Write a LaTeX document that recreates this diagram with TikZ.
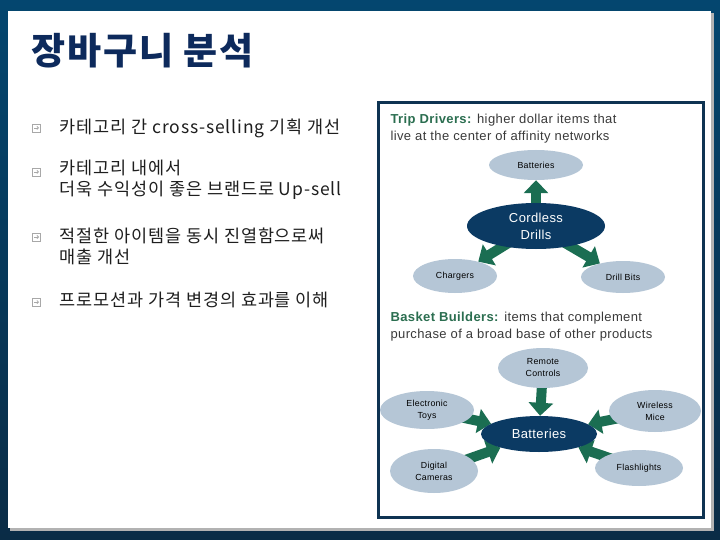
\documentclass[tikz,border=0pt]{standalone}
\usepackage{fontspec}
\setmainfont[LetterSpace=3]{Liberation Sans}
\newfontfamily\kr[LetterSpace=5]{Noto Sans CJK KR}
\newfontfamily\krtitle[LetterSpace=5]{Noto Sans CJK KR}
\usetikzlibrary{shapes.geometric,arrows.meta,backgrounds}
\definecolor{frametop}{HTML}{04466F}
\definecolor{framebot}{HTML}{0A2C46}
\definecolor{titleblue}{HTML}{0D2A5C}
\definecolor{itemblack}{HTML}{1E1E1E}
\definecolor{bulletgray}{HTML}{A8A8A8}
\definecolor{boxblue}{HTML}{0E3352}
\definecolor{ellgray}{HTML}{B5C6D6}
\definecolor{ellnavy}{HTML}{0B3A63}
\definecolor{arrgreen}{HTML}{1B6E52}
\definecolor{tripgreen}{HTML}{2B6E50}
\definecolor{graytext}{HTML}{3A3A3A}

\begin{document}
\begin{tikzpicture}[x=1pt,y=-1pt,
    lightell/.style={ellipse,fill=ellgray,inner sep=0pt,align=center,font=\fontsize{8.8}{12}\selectfont},
    darkell/.style={ellipse,fill=ellnavy,inner sep=0pt,align=center,text=white,font=\fontsize{13}{17}\selectfont},
    blockarr/.style={draw=arrgreen,line width=10pt,-{Triangle[width=24pt,length=13pt]}},
    itemtext/.style={anchor=west,align=left,text=itemblack,font=\kr\fontsize{17.5}{21}\selectfont},
    headtext/.style={anchor=west,align=left,text=graytext,font=\fontsize{13}{17}\selectfont}]
    \useasboundingbox (0,0) rectangle (720,540);
    \begin{pgfonlayer}{background}
      \shade[top color=frametop,bottom color=framebot] (0,0) rectangle (720,540);
      \fill[gray!60] (10,13) rectangle (714,531);
      \fill[white] (8,11) rectangle (711,528);
    \end{pgfonlayer}

    \node[anchor=west,text=titleblue,font=\krtitle\bfseries\fontsize{37}{42}\selectfont] (title) at (28,51) {장바구니 분석};

    \foreach \y in {128,172,237,302} {
      \draw[bulletgray,line width=0.8pt] (32,\y-4) rectangle (40,\y+4);
      \draw[bulletgray,line width=0.8pt,-{Straight Barb[length=1.5pt]}] (34,\y) -- (39,\y);
    }
    \node[itemtext] (item1) at (56,128) {카테고리 간 cross-selling 기획 개선};
    \node[itemtext] (item2) at (56,180) {카테고리 내에서\\더욱 수익성이 좋은 브랜드로 Up-sell};
    \node[itemtext] (item3) at (56,246.5) {적절한 아이템을 동시 진열함으로써\\매출 개선};
    \node[itemtext] (item4) at (56,300) {프로모션과 가격 변경의 효과를 이해};

    \draw[boxblue,line width=3pt] (378,103) rectangle (703,517);

    \node[headtext] (trip) at (387,128.5) {\textcolor{tripgreen}{\textbf{Trip Drivers:}} higher dollar items that\\live at the center of affinity networks};
    \node[lightell,minimum width=94pt,minimum height=30pt] (bat1) at (536,165) {Batteries};
    \node[darkell,minimum width=138pt,minimum height=46pt] (drills) at (536,226) {Cordless\\Drills};
    \node[lightell,minimum width=84pt,minimum height=34pt] (chargers) at (455,276) {Chargers};
    \node[lightell,minimum width=84pt,minimum height=32pt] (bits) at (623,277) {Drill Bits};

    \node[headtext] (basket) at (387,326.5) {\textcolor{tripgreen}{\textbf{Basket Builders:}} items that complement\\purchase of a broad base of other products};
    \node[lightell,minimum width=90pt,minimum height=40pt] (remote) at (543,368) {Remote\\Controls};
    \node[lightell,minimum width=94pt,minimum height=38pt] (toys) at (427,410) {Electronic\\Toys};
    \node[lightell,minimum width=92pt,minimum height=42pt] (mice) at (655,411) {Wireless\\Mice};
    \node[darkell,minimum width=116pt,minimum height=36pt] (bat2) at (539,434) {Batteries};
    \node[lightell,minimum width=88pt,minimum height=44pt] (cameras) at (434,471) {Digital\\Cameras};
    \node[lightell,minimum width=88pt,minimum height=36pt] (lights) at (639,468) {Flashlights};

    \begin{pgfonlayer}{background}
      \draw[blockarr] (drills.center) -- (bat1);
      \draw[blockarr] (drills.center) -- (chargers);
      \draw[blockarr] (drills.center) -- (bits);
      \draw[blockarr] (remote.center) -- (bat2);
      \draw[blockarr] (toys.center) -- (bat2);
      \draw[blockarr] (mice.center) -- (bat2);
      \draw[blockarr] (cameras.center) -- (bat2);
      \draw[blockarr] (lights.center) -- (bat2);
    \end{pgfonlayer}
\end{tikzpicture}
\end{document}
